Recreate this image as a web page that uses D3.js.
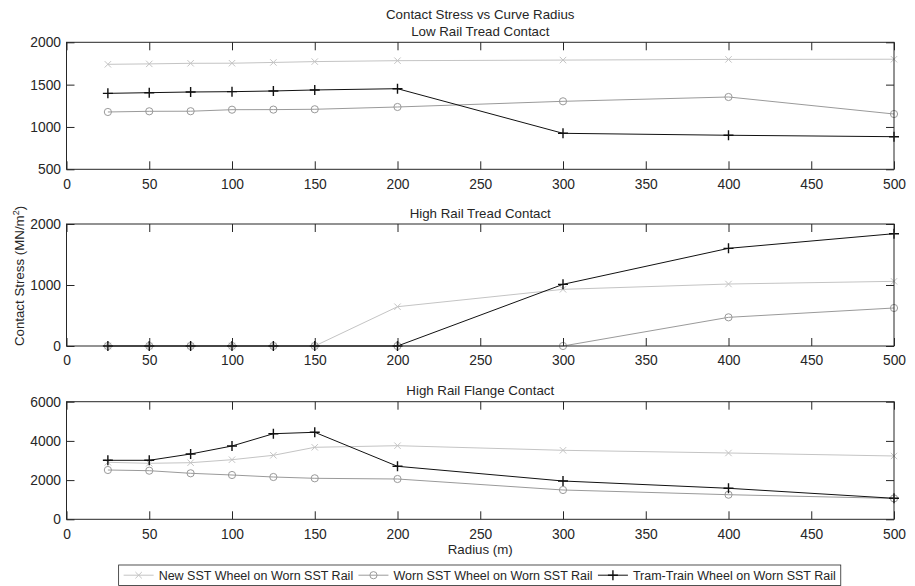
<!DOCTYPE html>
<html>
<head>
<meta charset="utf-8">
<script src="https://cdn.jsdelivr.net/npm/d3@7"></script>
<style>
  html, body { margin: 0; padding: 0; background: #fff; }
  svg { display: block; font-family: "Liberation Sans", Arial, sans-serif; }
  text { fill: #262626; }
</style>
</head>
<body>
<svg id="chart" width="915" height="586"></svg>
<script>
// Curve radius (m)
const radius = [25, 50, 75, 100, 125, 150, 200, 300, 400, 500];
const xTicks = [0, 50, 100, 150, 200, 250, 300, 350, 400, 450, 500];

const seriesNames = [
  "New SST Wheel on Worn SST Rail",
  "Worn SST Wheel on Worn SST Rail",
  "Tram-Train Wheel on Worn SST Rail"
];

// Low rail tread contact stress (MN/m^2)
const lowTreadNew  = [1740, 1745, 1752, 1753, 1762, 1772, 1783, 1790, 1798, 1800];
const lowTreadWorn = [1177, 1185, 1186, 1204, 1205, 1209, 1236, 1303, 1354, 1153];
const lowTreadTram = [1397, 1405, 1413, 1417, 1425, 1437, 1452, 925, 902, 885];
const lowTreadTicks = [500, 1000, 1500, 2000];

// High rail tread contact stress (MN/m^2)
const highTreadNew  = [0, 0, 0, 0, 0, 0, 644, 929, 1016, 1060];
const highTreadWorn = [0, 0, 0, 0, 0, 0, 0, 0, 470, 623];
const highTreadTram = [0, 0, 0, 0, 0, 0, 0, 1011, 1601, 1841];
const highTreadTicks = [0, 1000, 2000];

// High rail flange contact stress (MN/m^2)
const flangeNew  = [2908, 2857, 2888, 3041, 3265, 3673, 3755, 3520, 3383, 3230];
const flangeWorn = [2515, 2480, 2347, 2260, 2158, 2092, 2056, 1495, 1255, 1065];
const flangeTram = [3010, 3010, 3332, 3740, 4367, 4439, 2704, 1954, 1582, 1071];
const flangeTicks = [0, 2000, 4000, 6000];

const panels = [
  { title: "Low Rail Tread Contact",  top: 42.3,  bottom: 169.3, domain: [500, 2000], ticks: lowTreadTicks,  data: [lowTreadNew, lowTreadWorn, lowTreadTram] },
  { title: "High Rail Tread Contact", top: 224,   bottom: 346,   domain: [0, 2000],   ticks: highTreadTicks, data: [highTreadNew, highTreadWorn, highTreadTram] },
  { title: "High Rail Flange Contact",top: 401.7, bottom: 519.3, domain: [0, 6000],   ticks: flangeTicks,    data: [flangeNew, flangeWorn, flangeTram] }
];

const styles = [
  { color: "#c4c4c4", marker: "x" },
  { color: "#9a9a9a", marker: "o" },
  { color: "#111111", marker: "+" }
];

const left = 66.5, right = 894;
const svg = d3.select("#chart");
const fontSize = 13.3;
const tickFont = 13.8;
const tickLen = 8;

const x = d3.scaleLinear().domain([0, 500]).range([left, right]);

function drawMarker(g, type, cx, cy, color) {
  if (type === "x") {
    const s = 3.2;
    g.append("path")
      .attr("d", `M${cx - s},${cy - s}L${cx + s},${cy + s}M${cx - s},${cy + s}L${cx + s},${cy - s}`)
      .attr("stroke", color).attr("stroke-width", 1).attr("fill", "none");
  } else if (type === "o") {
    g.append("circle").attr("cx", cx).attr("cy", cy).attr("r", 3.6)
      .attr("stroke", color).attr("stroke-width", 1).attr("fill", "none");
  } else {
    const s = 5;
    g.append("path")
      .attr("d", `M${cx - s},${cy}L${cx + s},${cy}M${cx},${cy - s}L${cx},${cy + s}`)
      .attr("stroke", color).attr("stroke-width", 1.4).attr("fill", "none");
  }
}

// Overall title
svg.append("text").attr("x", (left + right) / 2).attr("y", 18.5)
  .attr("text-anchor", "middle").attr("font-size", fontSize)
  .text("Contact Stress vs Curve Radius");

panels.forEach((p) => {
  const y = d3.scaleLinear().domain(p.domain).range([p.bottom, p.top]);
  const g = svg.append("g");

  // Panel title
  g.append("text").attr("x", (left + right) / 2).attr("y", p.top - 6.3)
    .attr("text-anchor", "middle").attr("font-size", fontSize).text(p.title);

  // Series lines and markers
  p.data.forEach((vals, si) => {
    const st = styles[si];
    const line = d3.line().x((d, i) => x(radius[i])).y(d => y(d));
    g.append("path").datum(vals).attr("d", line)
      .attr("fill", "none").attr("stroke", st.color).attr("stroke-width", 1);
    vals.forEach((v, i) => drawMarker(g, st.marker, x(radius[i]), y(v), st.color));
  });

  // Axes: bottom with labels, top/right mirrored ticks, left with labels
  const bottomAxis = d3.axisBottom(x).tickValues(xTicks).tickSizeInner(-tickLen).tickSizeOuter(0).tickFormat(d3.format("d"));
  const topAxis = d3.axisTop(x).tickValues(xTicks).tickSizeInner(-tickLen).tickSizeOuter(0).tickFormat("");
  const leftAxis = d3.axisLeft(y).tickValues(p.ticks).tickSizeInner(-tickLen).tickSizeOuter(0).tickFormat(d3.format("d"));
  const rightAxis = d3.axisRight(y).tickValues(p.ticks).tickSizeInner(-tickLen).tickSizeOuter(0).tickFormat("");

  const gb = g.append("g").attr("transform", `translate(0,${p.bottom})`).call(bottomAxis);
  const gt = g.append("g").attr("transform", `translate(0,${p.top})`).call(topAxis);
  const gl = g.append("g").attr("transform", `translate(${left},0)`).call(leftAxis);
  const gr = g.append("g").attr("transform", `translate(${right},0)`).call(rightAxis);

  [gb, gt, gl, gr].forEach(a => {
    a.select(".domain").remove();
    a.selectAll(".tick line").attr("stroke", "#262626").attr("stroke-width", 1);
    a.selectAll("text").attr("font-size", tickFont).attr("font-family", "Liberation Sans, Arial, sans-serif").attr("fill", "#262626");
  });
  gb.selectAll(".tick text").attr("y", 9.5).attr("dy", "0.71em");
  gl.selectAll(".tick text").attr("x", -5.5);

  // Axes box
  g.append("rect").attr("x", left).attr("y", p.top)
    .attr("width", right - left).attr("height", p.bottom - p.top)
    .attr("fill", "none").attr("stroke", "#262626").attr("stroke-width", 1);
});

// Axis labels
svg.append("text").attr("x", (left + right) / 2).attr("y", 554)
  .attr("text-anchor", "middle").attr("font-size", fontSize).text("Radius (m)");

const yl = svg.append("text")
  .attr("transform", "translate(23.5,276) rotate(-90)")
  .attr("text-anchor", "middle").attr("font-size", fontSize);
yl.append("tspan").text("Contact Stress (MN/m");
yl.append("tspan").attr("dy", -5).attr("font-size", 9).text("2");
yl.append("tspan").attr("dy", 5).text(")");

// Legend
const legFont = 12.5;
const legY = 575.2;
const legend = svg.append("g");
const lineW = 30, pad = 5, gap = 5.3;
const items = [];
seriesNames.forEach((name) => {
  const it = legend.append("g");
  const t = it.append("text").attr("font-size", legFont).attr("x", lineW + 5).attr("y", 0)
    .attr("dy", "0.35em").text(name);
  const w = t.node().getComputedTextLength();
  items.push({ g: it, w: lineW + 5 + w });
});
const totalW = items.reduce((s, d) => s + d.w, 0) + pad * 2 + gap * (items.length - 1);
const legLeft = 479.7 - totalW / 2;
let cursor = legLeft + pad;
items.forEach((d, i) => {
  const st = styles[i];
  d.g.attr("transform", `translate(${cursor},${legY})`);
  d.g.append("line").attr("x1", 0).attr("x2", lineW).attr("y1", 0).attr("y2", 0)
    .attr("stroke", st.color).attr("stroke-width", 1);
  drawMarker(d.g, st.marker, lineW / 2, 0, st.color);
  cursor += d.w + gap;
});
legend.insert("rect", ":first-child").attr("x", legLeft).attr("y", 565)
  .attr("width", totalW).attr("height", 20.5)
  .attr("fill", "#fff").attr("stroke", "#262626").attr("stroke-width", 0.8);
</script>
</body>
</html>
